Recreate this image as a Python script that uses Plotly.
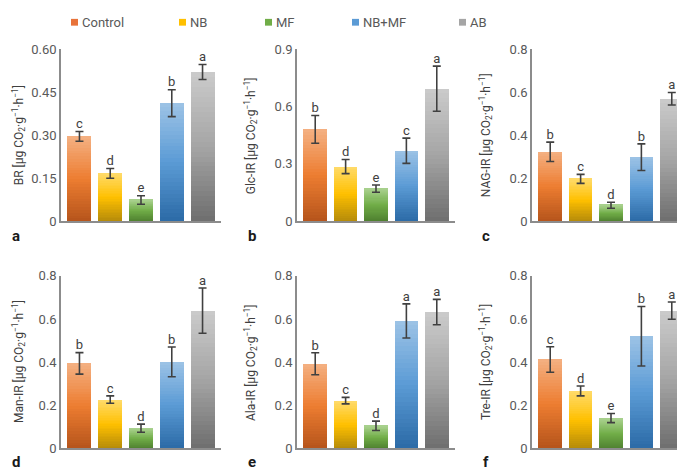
import plotly.graph_objects as go

# ---------------- data ----------------
groups = ["Control", "NB", "MF", "NB+MF", "AB"]

br_mean = [0.296, 0.167, 0.074, 0.412, 0.521]
br_err = [0.017, 0.017, 0.015, 0.047, 0.026]
br_sig = ["c", "d", "e", "b", "a"]

glc_mean = [0.481, 0.286, 0.171, 0.369, 0.694]
glc_err = [0.073, 0.037, 0.019, 0.066, 0.118]
glc_sig = ["b", "d", "e", "c", "a"]

nag_mean = [0.323, 0.197, 0.074, 0.298, 0.570]
nag_err = [0.045, 0.021, 0.014, 0.062, 0.029]
nag_sig = ["b", "c", "d", "b", "a"]

man_mean = [0.394, 0.226, 0.093, 0.401, 0.639]
man_err = [0.050, 0.017, 0.019, 0.069, 0.105]
man_sig = ["b", "c", "d", "b", "a"]

ala_mean = [0.392, 0.221, 0.104, 0.591, 0.632]
ala_err = [0.051, 0.015, 0.022, 0.079, 0.059]
ala_sig = ["b", "c", "d", "a", "a"]

tre_mean = [0.412, 0.266, 0.140, 0.520, 0.639]
tre_err = [0.059, 0.023, 0.021, 0.138, 0.040]
tre_sig = ["c", "d", "e", "b", "a"]

panel_letters = ["a", "b", "c", "d", "e", "f"]
ylabel_names = ["BR", "Glc-IR", "NAG-IR", "Man-IR", "Ala-IR", "Tre-IR"]

ab_ticks = [0, 0.15, 0.30, 0.45, 0.60]
ab_ticktext = ["0", "0.15", "0.30", "0.45", "0.60"]
b_ticks = [0, 0.3, 0.6, 0.9]
b_ticktext = ["0", "0.3", "0.6", "0.9"]
c_ticks = [0, 0.2, 0.4, 0.6, 0.8]
c_ticktext = ["0", "0.2", "0.4", "0.6", "0.8"]

# ---------------- styles ----------------
W, H = 685, 470
FONT = "Roboto, Open Sans, sans-serif"
grad_top = ["#F4B183", "#FFDB6B", "#A9D18E", "#9DC3E6", "#CBCBCB"]
grad_mid = ["#ED7D31", "#FFC000", "#70AD47", "#5B9BD5", "#A5A5A5"]
grad_bot = ["#B5541B", "#B38A0A", "#4E7F2F", "#2B6AA6", "#6E6E6E"]
legend_col = ["#E8733A", "#FFC000", "#70AD47", "#5B9BD5", "#A5A5A5"]

x_dom = [(53, 213), (289, 447), (524, 682)]
y_dom = [(35.5, 213), (269.5, 447.5)]
title_x = [11, 243, 478]
letter_x = [8, 243.5, 478]
letter_y = [228, 462]

NSEG = 30


def hex2rgb(h):
    h = h.lstrip("#")
    return tuple(int(h[i:i + 2], 16) for i in (0, 2, 4))


def mix(c1, c2, t):
    a, b = hex2rgb(c1), hex2rgb(c2)
    return "rgb(%d,%d,%d)" % tuple(round(a[i] + (b[i] - a[i]) * t) for i in range(3))


def grad_color(i, f):
    # f: 0 at bottom, 1 at top
    t = 1 - f
    if t < 0.5:
        return mix(grad_top[i], grad_mid[i], t / 0.5)
    return mix(grad_mid[i], grad_bot[i], (t - 0.5) / 0.5)


panels = [
    (br_mean, br_err, br_sig, [0, 0.6], ab_ticks, ab_ticktext),
    (glc_mean, glc_err, glc_sig, [0, 0.9], b_ticks, b_ticktext),
    (nag_mean, nag_err, nag_sig, [0, 0.8], c_ticks, c_ticktext),
    (man_mean, man_err, man_sig, [0, 0.8], c_ticks, c_ticktext),
    (ala_mean, ala_err, ala_sig, [0, 0.8], c_ticks, c_ticktext),
    (tre_mean, tre_err, tre_sig, [0, 0.8], c_ticks, c_ticktext),
]

fig = go.Figure()
annotations = []
shapes = []
layout_axes = {}

for p, (mean, err, sig, yr, tv, tt) in enumerate(panels):
    row, col = divmod(p, 3)
    n = p + 1
    xa = "x" if n == 1 else "x%d" % n
    ya = "y" if n == 1 else "y%d" % n
    for k in range(NSEG):
        f = (k + 0.5) / NSEG
        fig.add_trace(go.Bar(
            x=groups, y=[v / NSEG for v in mean],
            marker=dict(color=[grad_color(i, f) for i in range(len(groups))],
                        line=dict(width=0)),
            xaxis=xa, yaxis=ya, showlegend=False, hoverinfo="skip",
        ))
    fig.add_trace(go.Scatter(
        x=groups, y=mean, mode="markers",
        marker=dict(size=1, color="rgba(0,0,0,0)"),
        error_y=dict(type="data", array=err, color="#404040", thickness=1.6, width=4),
        xaxis=xa, yaxis=ya, showlegend=False, hoverinfo="skip",
    ))
    fig.add_trace(go.Scatter(
        x=groups, y=[m + e for m, e in zip(mean, err)], mode="text",
        text=sig, textposition="top center",
        textfont=dict(size=13, color="#404040", family=FONT),
        xaxis=xa, yaxis=ya, showlegend=False, hoverinfo="skip",
    ))
    x0, x1 = x_dom[col]
    y0, y1 = y_dom[row]
    xd = [x0 / W, x1 / W]
    yd = [1 - y1 / H, 1 - y0 / H]
    kx = "xaxis" if n == 1 else "xaxis%d" % n
    ky = "yaxis" if n == 1 else "yaxis%d" % n
    layout_axes[kx] = dict(domain=xd, anchor=ya, type="category", range=[-0.6, 4.6],
                           showline=True, linecolor="#8C8C8C", linewidth=1.5,
                           showticklabels=False, ticks="", showgrid=False, zeroline=False)
    layout_axes[ky] = dict(domain=yd, anchor=xa, range=yr, tickvals=tv, ticktext=tt,
                           showline=True, linecolor="#8C8C8C", linewidth=1.5,
                           ticks="", ticklen=0, showgrid=False, zeroline=False,
                           tickfont=dict(size=13, color="#595959", family=FONT))
    annotations.append(dict(
        text=ylabel_names[p] + " [μg CO<sub>2</sub>·g<sup>−1</sup>·h<sup>−1</sup>]",
        textangle=-90, xref="paper", yref="paper",
        x=title_x[col] / W, y=(yd[0] + yd[1]) / 2, xanchor="center", yanchor="middle",
        showarrow=False, font=dict(size=12, color="#404040", family=FONT)))
    annotations.append(dict(
        text="<b>%s</b>" % panel_letters[p], xref="paper", yref="paper",
        x=letter_x[col] / W, y=1 - letter_y[row] / H, xanchor="center", yanchor="middle",
        showarrow=False, font=dict(size=15, color="#1a1a1a", family=FONT)))

# legend (manual, matching original layout)
leg_sq_x = [63, 171, 257, 344, 451]
for i, g in enumerate(groups):
    sx = leg_sq_x[i]
    shapes.append(dict(type="rect", xref="paper", yref="paper",
                       x0=sx / W, x1=(sx + 7) / W, y0=1 - 11 / H, y1=1 - 4 / H,
                       fillcolor=legend_col[i], line=dict(width=0)))
    annotations.append(dict(text=g, xref="paper", yref="paper",
                            x=(sx + 9) / W, y=1 - 7.5 / H, xanchor="left", yanchor="middle",
                            showarrow=False, font=dict(size=13, color="#595959", family=FONT)))

fig.update_layout(
    width=W, height=H, margin=dict(l=0, r=0, t=0, b=0),
    paper_bgcolor="white", plot_bgcolor="white",
    barmode="stack", bargap=0.22, showlegend=False,
    font=dict(family=FONT, color="#404040"),
    annotations=annotations, shapes=shapes,
    **layout_axes,
)

fig.write_html("out.html")
